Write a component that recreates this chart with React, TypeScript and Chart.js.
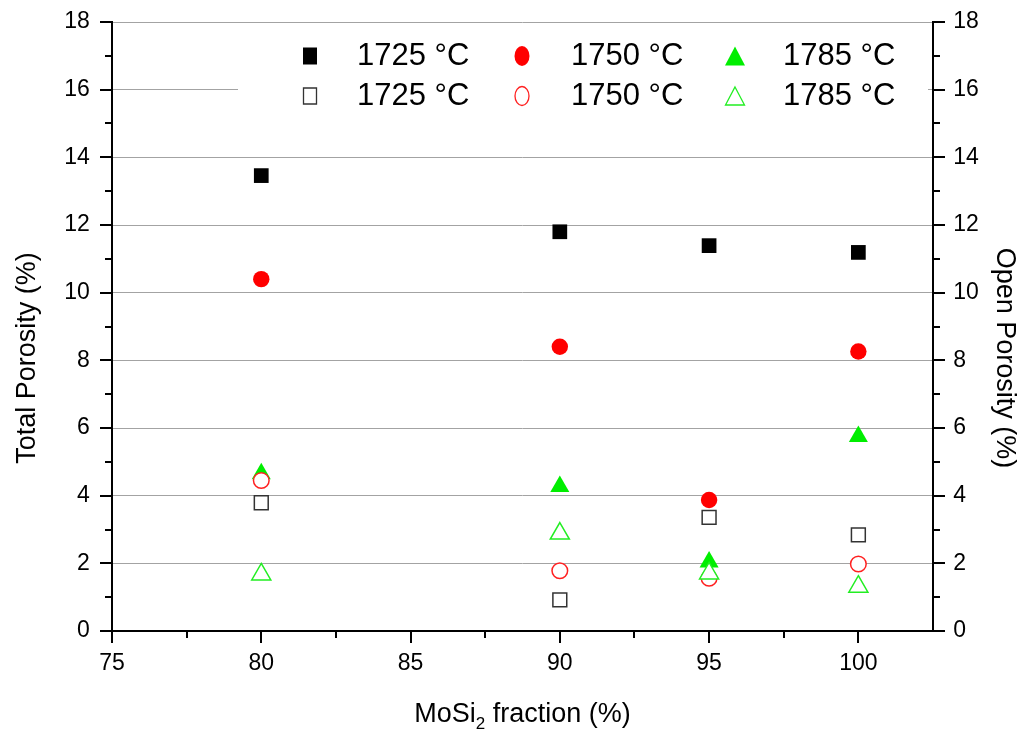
import React, { useEffect, useRef } from 'react';
import { Chart, registerables } from 'chart.js';

Chart.register(...registerables);

const fractions = [80, 90, 95, 100];
const total1725 = [13.46, 11.8, 11.39, 11.19];
const total1750 = [10.4, 8.4, 3.87, 8.26];
const total1785 = [4.65, 4.27, 2.04, 5.75];
const open1725 = [3.79, 0.92, 3.36, 2.84];
const open1750 = [4.45, 1.78, 1.56, 1.98];
const open1785 = [1.67, 2.88, 1.7, 1.31];

const xTicks = [75, 80, 85, 90, 95, 100];
const xMinorTicks = [77.5, 82.5, 87.5, 92.5, 97.5];
const yTicks = [0, 2, 4, 6, 8, 10, 12, 14, 16, 18];
const yMinorTicks = [1, 3, 5, 7, 9, 11, 13, 15, 17];
const legendLabels = ['1725 °C', '1750 °C', '1785 °C', '1725 °C', '1750 °C', '1785 °C'];
const leftTitle = 'Total Porosity (%)';
const rightTitle = 'Open Porosity (%)';

const FONT = '"Liberation Sans", Arial, sans-serif';

function pts(vals: number[]) {
  return fractions.map((f, i) => ({ x: f, y: vals[i] }));
}

function drawShape(ctx: CanvasRenderingContext2D, shape: string, cx: number, cy: number, w: number, h: number, fill: string, stroke: string | null, lw: number) {
  ctx.save();
  ctx.beginPath();
  if (shape === 'rect') {
    ctx.rect(cx - w / 2, cy - h / 2, w, h);
  } else if (shape === 'circle') {
    ctx.ellipse(cx, cy, w / 2, h / 2, 0, 0, Math.PI * 2);
  } else {
    ctx.moveTo(cx, cy - h / 2);
    ctx.lineTo(cx + w / 2, cy + h / 2);
    ctx.lineTo(cx - w / 2, cy + h / 2);
    ctx.closePath();
  }
  ctx.fillStyle = fill;
  ctx.fill();
  if (stroke) {
    ctx.lineWidth = lw;
    ctx.strokeStyle = stroke;
    ctx.stroke();
  }
  ctx.restore();
}

const decorPlugin = {
  id: 'decor',
  afterDraw(chart: any) {
    const ctx: CanvasRenderingContext2D = chart.ctx;
    const xs = chart.scales.x;
    const ys = chart.scales.y;
    const ys2 = chart.scales.y2;
    const { left, right, top, bottom } = chart.chartArea;
    ctx.save();

    // legend box
    ctx.fillStyle = '#ffffff';
    ctx.fillRect(238, 30, 690, 88);

    // axes lines
    ctx.strokeStyle = '#000';
    ctx.lineWidth = 2;
    ctx.beginPath();
    ctx.moveTo(left, top - 1);
    ctx.lineTo(left, bottom);
    ctx.lineTo(right, bottom);
    ctx.lineTo(right, top - 1);
    ctx.stroke();

    // ticks
    ctx.beginPath();
    xTicks.forEach((v) => {
      const p = Math.round(xs.getPixelForValue(v));
      ctx.moveTo(p, bottom);
      ctx.lineTo(p, bottom + 12);
    });
    xMinorTicks.forEach((v) => {
      const p = Math.round(xs.getPixelForValue(v));
      ctx.moveTo(p, bottom);
      ctx.lineTo(p, bottom + 7);
    });
    yTicks.forEach((v) => {
      const p = Math.round(ys.getPixelForValue(v));
      ctx.moveTo(left, p);
      ctx.lineTo(left - 12, p);
      const p2 = Math.round(ys2.getPixelForValue(v));
      ctx.moveTo(right, p2);
      ctx.lineTo(right + 12, p2);
    });
    yMinorTicks.forEach((v) => {
      const p = Math.round(ys.getPixelForValue(v));
      ctx.moveTo(left, p);
      ctx.lineTo(left - 7, p);
      const p2 = Math.round(ys2.getPixelForValue(v));
      ctx.moveTo(right, p2);
      ctx.lineTo(right + 7, p2);
    });
    ctx.stroke();

    // legend
    const colX = [310, 522, 735];
    const textX = [357, 571, 783];
    const rowY = [56, 96];
    const ds = chart.data.datasets;
    ds.forEach((d: any, i: number) => {
      const col = i % 3;
      const row = Math.floor(i / 3);
      const cx = colX[col];
      const cy = rowY[row];
      const filled = row === 0;
      const shape = d.pointStyle;
      let w = 14, h = 17;
      if (shape === 'circle') { w = 15; h = 20; }
      if (shape === 'triangle') { w = 20; h = 19; }
      if (filled) {
        drawShape(ctx, shape, cx, cy, w, h, d.backgroundColor, null, 0);
      } else {
        drawShape(ctx, shape, cx, cy, w - 1, h - 1, '#ffffff', d.borderColor, 1.3);
      }
      ctx.fillStyle = '#000';
      ctx.font = `31px ${FONT}`;
      ctx.textBaseline = 'middle';
      ctx.textAlign = 'left';
      ctx.fillText(legendLabels[i], textX[col], cy);
    });

    // y axis titles
    const titleY = 358;
    ctx.fillStyle = '#000';
    ctx.font = `27px ${FONT}`;
    ctx.textAlign = 'center';
    ctx.textBaseline = 'middle';
    ctx.save();
    ctx.translate(28, titleY);
    ctx.rotate(-Math.PI / 2);
    ctx.fillText(leftTitle, 0, 0);
    ctx.restore();
    ctx.save();
    ctx.translate(1004, titleY);
    ctx.rotate(Math.PI / 2);
    ctx.fillText(rightTitle, 0, 0);
    ctx.restore();

    // x axis title with subscript
    const main1 = 'MoSi';
    const sub = '2';
    const main2 = ' fraction (%)';
    ctx.font = `27px ${FONT}`;
    const w1 = ctx.measureText(main1).width;
    const w3 = ctx.measureText(main2).width;
    ctx.font = `17px ${FONT}`;
    const w2 = ctx.measureText(sub).width;
    const total = w1 + w2 + w3;
    const cxT = (left + right) / 2;
    let sx = cxT - total / 2;
    const base = 722;
    ctx.textBaseline = 'alphabetic';
    ctx.textAlign = 'left';
    ctx.fillStyle = '#000';
    ctx.font = `27px ${FONT}`;
    ctx.fillText(main1, sx, base);
    sx += w1;
    ctx.font = `17px ${FONT}`;
    ctx.fillText(sub, sx, base + 7);
    sx += w2;
    ctx.font = `27px ${FONT}`;
    ctx.fillText(main2, sx, base);

    ctx.restore();
  },
};

export default function App() {
  const canvasRef = useRef<HTMLCanvasElement | null>(null);

  useEffect(() => {
    document.body.style.margin = '0';
    const canvas = canvasRef.current;
    if (!canvas) return;
    const chart = new Chart(canvas, {
      type: 'scatter',
      data: {
        datasets: [
          {
            label: '1725 °C', data: pts(total1725), yAxisID: 'y', order: 6,
            pointStyle: 'rect', pointRadius: 10.4, backgroundColor: '#000000', borderColor: '#000000', borderWidth: 0,
          },
          {
            label: '1750 °C', data: pts(total1750), yAxisID: 'y', order: 5,
            pointStyle: 'circle', pointRadius: 8.2, backgroundColor: '#ff0000', borderColor: '#ff0000', borderWidth: 0,
          },
          {
            label: '1785 °C', data: pts(total1785), yAxisID: 'y', order: 4,
            pointStyle: 'triangle', pointRadius: 11, backgroundColor: '#00ee00', borderColor: '#00ee00', borderWidth: 0,
          },
          {
            label: '1725 °C', data: pts(open1725), yAxisID: 'y2', order: 3,
            pointStyle: 'rect', pointRadius: 9.8, backgroundColor: '#ffffff', borderColor: '#333333', borderWidth: 1.5,
          },
          {
            label: '1750 °C', data: pts(open1750), yAxisID: 'y2', order: 2,
            pointStyle: 'circle', pointRadius: 7.8, backgroundColor: '#ffffff', borderColor: '#ff2020', borderWidth: 1.5,
          },
          {
            label: '1785 °C', data: pts(open1785), yAxisID: 'y2', order: 1,
            pointStyle: 'triangle', pointRadius: 11, backgroundColor: '#ffffff', borderColor: '#22ee22', borderWidth: 1.5,
          },
        ],
      },
      options: {
        responsive: false,
        animation: false,
        layout: { padding: { top: 0, left: 0, right: 0, bottom: 0 } },
        plugins: {
          legend: { display: false },
          tooltip: { enabled: false },
        },
        scales: {
          x: {
            type: 'linear',
            position: 'bottom',
            min: 75,
            max: 102.5,
            afterBuildTicks: (scale: any) => {
              scale.ticks = xTicks.map((v) => ({ value: v }));
            },
            afterFit: (scale: any) => { scale.height = 100; },
            grid: { display: false },
            border: { display: false },
            ticks: {
              color: '#000',
              font: { family: FONT, size: 23 },
              padding: 11,
              maxRotation: 0,
              autoSkip: false,
            },
            title: { display: false },
          },
          y: {
            type: 'linear',
            position: 'left',
            min: 0,
            max: 18,
            afterBuildTicks: (scale: any) => {
              scale.ticks = yTicks.map((v) => ({ value: v }));
            },
            afterFit: (scale: any) => { scale.width = 112; },
            grid: { color: '#a3a3a3', lineWidth: 1, drawTicks: true, tickLength: 14, tickColor: 'rgba(0,0,0,0)' },
            border: { display: false },
            ticks: {
              color: '#000',
              font: { family: FONT, size: 23 },
              padding: 8.2,
            },
            title: { display: false },
          },
          y2: {
            type: 'linear',
            position: 'right',
            min: 0,
            max: 18,
            afterBuildTicks: (scale: any) => {
              scale.ticks = yTicks.map((v) => ({ value: v }));
            },
            afterFit: (scale: any) => { scale.width = 99; },
            grid: { display: true, drawOnChartArea: false, drawTicks: true, tickLength: 12, tickColor: 'rgba(0,0,0,0)', color: 'rgba(0,0,0,0)' },
            border: { display: false },
            ticks: {
              color: '#000',
              font: { family: FONT, size: 23 },
              padding: 8.2,
            },
            title: { display: false },
          },
        },
      },
      plugins: [decorPlugin],
    });
    return () => chart.destroy();
  }, []);

  return (
    <div style={{ position: 'fixed', left: 0, top: 0, width: 1032, height: 731, background: '#fff' }}>
      <canvas ref={canvasRef} width={1032} height={731} style={{ display: 'block' }} />
    </div>
  );
}
